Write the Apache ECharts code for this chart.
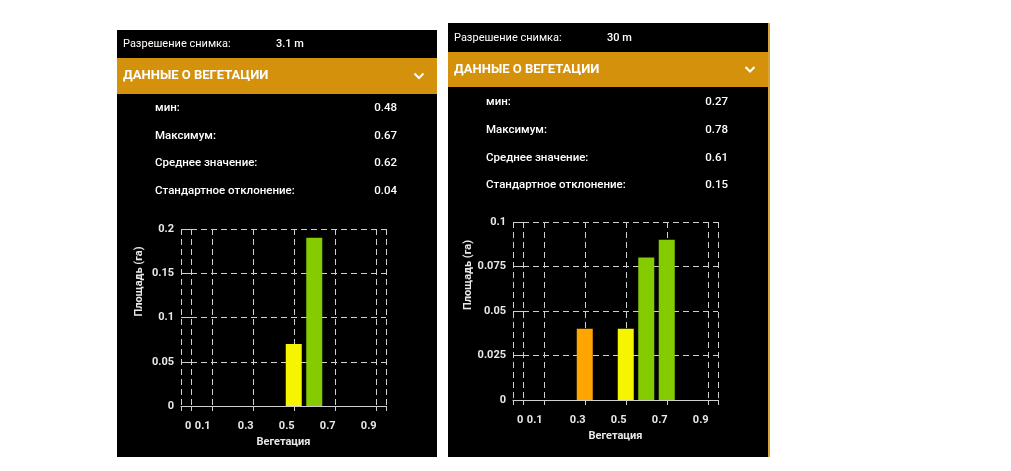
<!DOCTYPE html>
<html><head><meta charset="utf-8">
<script src="https://cdn.jsdelivr.net/npm/echarts@6/dist/echarts.min.js"></script>
<style>html,body{margin:0;padding:0;background:#fff;}#c{width:1011px;height:471px;}</style>
</head><body><div id="c"></div>
<script>
// ---- data ----
const panelTitle = 'ДАННЫЕ О ВЕГЕТАЦИИ';
const resolutionLabel = 'Разрешение снимка:';
const resolutions = ['3.1 m', '30 m'];
const statLabels = ['мин:', 'Максимум:', 'Среднее значение:', 'Стандартное отклонение:'];
const statsLeft = ['0.48', '0.67', '0.62', '0.04'];
const statsRight = ['0.27', '0.78', '0.61', '0.15'];
const xTickValues = [0, 0.1, 0.3, 0.5, 0.7, 0.9];
const barsLeftX = [0.5, 0.6];
const barsLeftY = [0.07, 0.19];
const barsRightX = [0.3, 0.5, 0.6, 0.7];
const barsRightY = [0.04, 0.04, 0.08, 0.09];
const yMaxLeft = 0.2, yStepLeft = 0.05;
const yMaxRight = 0.1, yStepRight = 0.025;
const yAxisName = 'Площадь (га)';
const xAxisName = 'Вегетация';

// ---- styling ----
const FONT = 'Roboto, "Noto Sans", sans-serif';
const GOLD = '#d4910b';
const GRID_C = '#cfcfcf';
function barColor(v) {
  if (v < 0.45) return '#ffa500';
  if (v < 0.55) return '#f5f500';
  return '#84cc00';
}
const X_MIN = -0.05, X_MAX = 0.95;

function xAxisCfg(gi) {
  return {
    type: 'value', gridIndex: gi, min: X_MIN, max: X_MAX,
    name: xAxisName, nameLocation: 'middle', nameGap: 31,
    nameTextStyle: {color: '#e8e8e8', fontFamily: FONT, fontSize: 11, fontWeight: 'bold'},
    axisLine: {show: true, lineStyle: {color: GRID_C, width: 1}},
    axisTick: {show: true, length: 5, inside: false, customValues: [X_MIN].concat(xTickValues, [X_MAX]), lineStyle: {color: GRID_C}},
    splitLine: {show: true, lineStyle: {color: GRID_C, type: [6, 4], width: 1}},
    axisLabel: {
      customValues: xTickValues, margin: 15,
      formatter: v => v === 0 ? '{z|0}' : (Math.abs(v - 0.1) < 1e-9 ? '{o|' + v + '}' : '{n|' + v + '}'),
      rich: {
        z: {color: '#e8e8e8', fontFamily: FONT, fontSize: 11, fontWeight: 'bold', padding: [0, 6, 0, 0]},
        o: {color: '#e8e8e8', fontFamily: FONT, fontSize: 11, fontWeight: 'bold', padding: [0, 18, 0, 0]},
        n: {color: '#e8e8e8', fontFamily: FONT, fontSize: 11, fontWeight: 'bold', padding: [0, 14, 0, 0]}
      }
    }
  };
}
function yAxisCfg(gi, max, step) {
  return {
    type: 'value', gridIndex: gi, min: 0, max: max, interval: step,
    name: yAxisName, nameLocation: 'middle', nameGap: 36, nameRotate: 90,
    nameTextStyle: {color: '#e8e8e8', fontFamily: FONT, fontSize: 11, fontWeight: 'bold', padding: [0, 0, 0, 72]},
    axisLine: {show: false},
    axisTick: {show: true, length: 5, lineStyle: {color: GRID_C}},
    splitLine: {show: true, lineStyle: {color: GRID_C, type: [6, 4], width: 1}},
    axisLabel: {color: '#e8e8e8', fontFamily: FONT, fontSize: 11, fontWeight: 'bold', margin: 7}
  };
}

function panelGraphics(x, y, w, h, headerY, headerH, resY, rowYs, stats, resText) {
  const g = [];
  g.push({type: 'rect', shape: {x: x, y: y, width: w, height: h}, style: {fill: '#000'}, z: -10});
  g.push({type: 'rect', shape: {x: x, y: headerY, width: w, height: headerH}, style: {fill: GOLD}, z: -9});
  g.push({type: 'text', x: x + 6, y: resY, style: {text: resolutionLabel, fill: '#fff', font: '11px ' + FONT, textVerticalAlign: 'middle'}});
  g.push({type: 'text', x: x + 159, y: resY, style: {text: resText, fill: '#fff', font: '500 11px ' + FONT, textVerticalAlign: 'middle'}});
  g.push({type: 'text', x: x + 6, y: headerY + headerH / 2, style: {text: panelTitle, fill: '#fff', font: 'bold 13px ' + FONT, textVerticalAlign: 'middle'}});
  const cx = x + w - 18, cy = headerY + headerH / 2;
  g.push({type: 'polyline', shape: {points: [[cx - 4.5, cy - 2.5], [cx, cy + 2], [cx + 4.5, cy - 2.5]]}, style: {stroke: '#fff', lineWidth: 2, fill: null}});
  statLabels.forEach((s, i) => {
    g.push({type: 'text', x: x + 38, y: rowYs[i], style: {text: s, fill: '#fff', font: '500 11.5px ' + FONT, textVerticalAlign: 'middle'}});
    g.push({type: 'text', x: x + 280, y: rowYs[i], style: {text: stats[i], fill: '#fff', font: '500 11.5px ' + FONT, textVerticalAlign: 'middle', textAlign: 'right'}});
  });
  return g;
}

const graphics = [].concat(
  panelGraphics(117, 30, 320, 427, 58, 36, 44, [108, 136, 163.5, 191], statsLeft, resolutions[0]),
  panelGraphics(448, 23, 320, 434, 52, 35, 38, [102.5, 130.5, 158, 185], statsRight, resolutions[1]),
  [{type: 'rect', shape: {x: 768, y: 23, width: 2, height: 434}, style: {fill: '#d9a536'}, z: -8}]
);

function barSeries(gi, xs, ys) {
  return {
    type: 'bar', xAxisIndex: gi, yAxisIndex: gi, barWidth: 16,
    data: xs.map((x, i) => ({value: [x, ys[i]], itemStyle: {color: barColor(x)}})),
    z: 5
  };
}

const chart = echarts.init(document.getElementById('c'), null, {renderer: 'canvas'});
chart.setOption({
  backgroundColor: '#fff',
  animation: false,
  graphic: {elements: graphics},
  grid: [
    {left: 181, top: 229, width: 205, height: 177, containLabel: false},
    {left: 513, top: 222, width: 205, height: 178, containLabel: false}
  ],
  xAxis: [xAxisCfg(0), xAxisCfg(1)],
  yAxis: [yAxisCfg(0, yMaxLeft, yStepLeft), yAxisCfg(1, yMaxRight, yStepRight)],
  series: [barSeries(0, barsLeftX, barsLeftY), barSeries(1, barsRightX, barsRightY)]
});
</script></body></html>
